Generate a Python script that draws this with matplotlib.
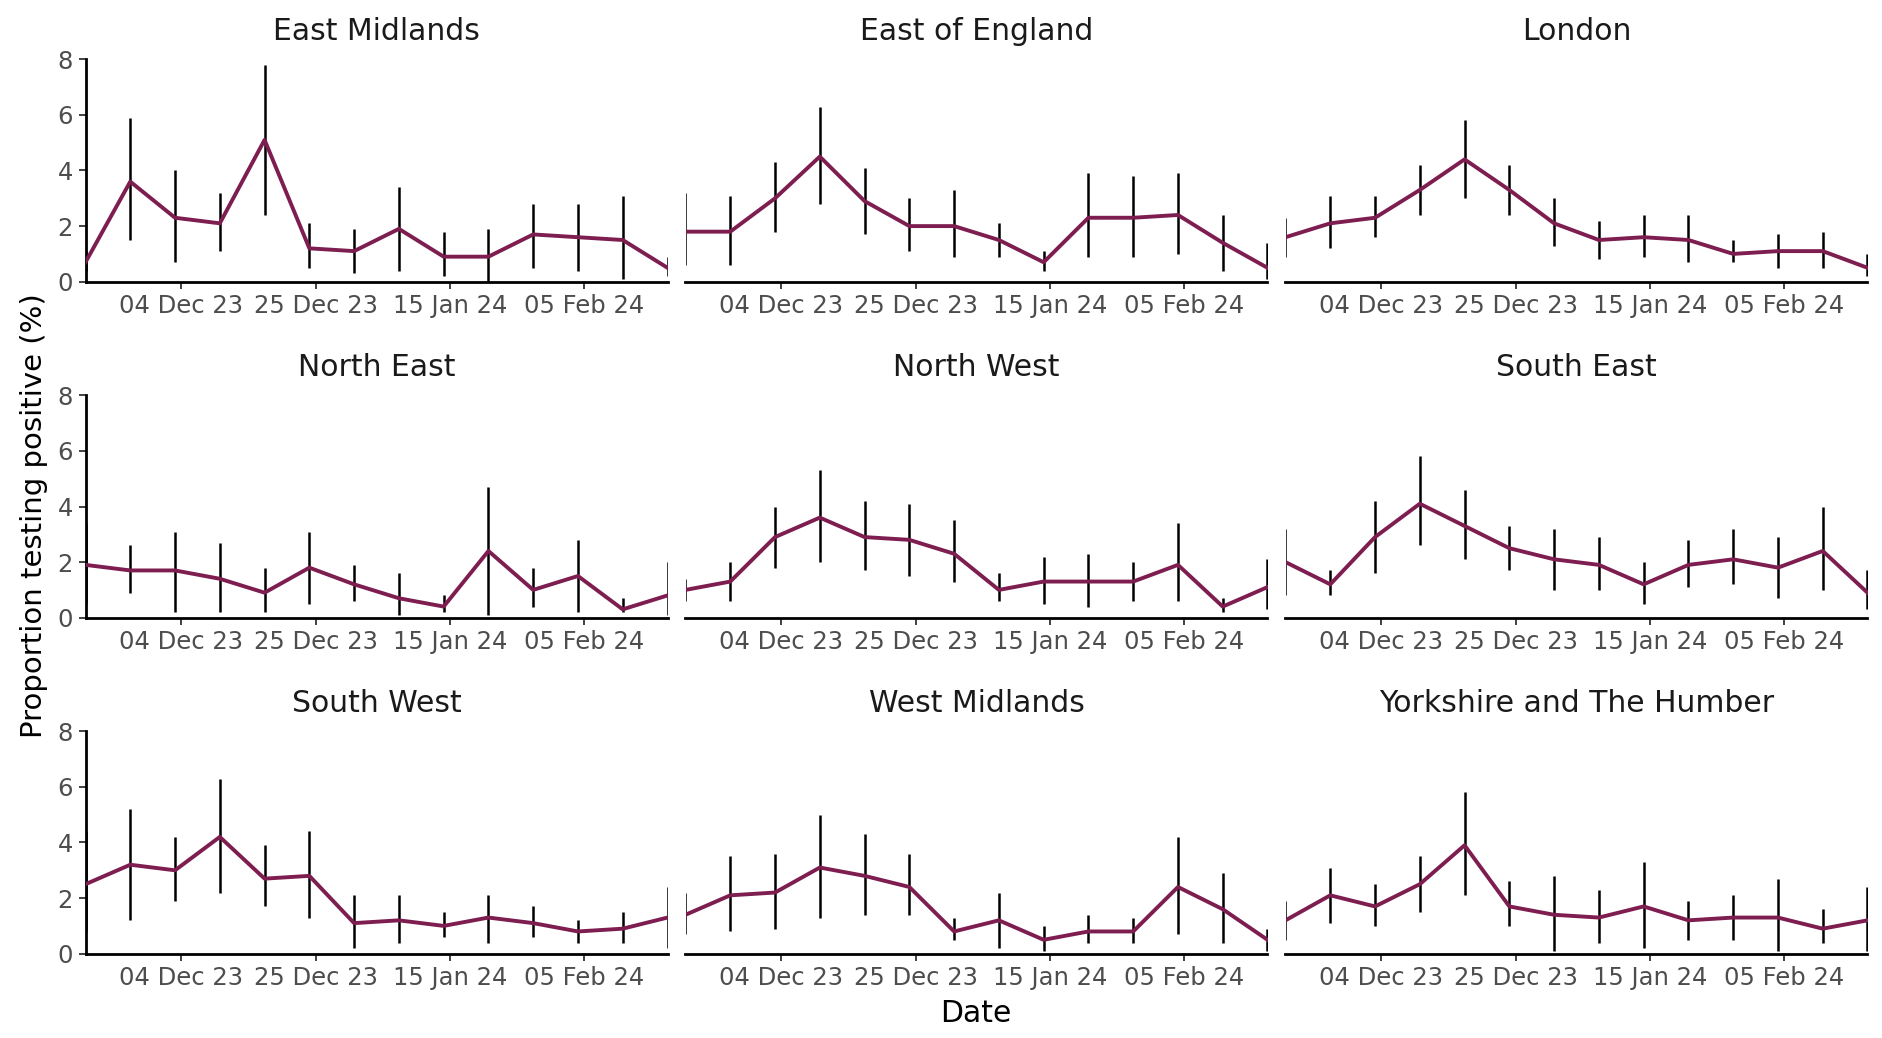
import matplotlib
matplotlib.use('Agg')
import matplotlib.pyplot as plt
import matplotlib.dates as mdates
import numpy as np

# weekly sample dates (Sundays)
dates = np.arange(np.datetime64('2023-11-19'), np.datetime64('2024-02-19'), np.timedelta64(7, 'D'))
tick_dates = np.array(['2023-12-04', '2023-12-25', '2024-01-15', '2024-02-05'], dtype='datetime64[D]')

east_midlands    = [0.7, 3.6, 2.3, 2.1, 5.1, 1.2, 1.1, 1.9, 0.9, 0.9, 1.7, 1.6, 1.5, 0.5]
east_midlands_lo = [0.4, 1.5, 0.7, 1.1, 2.4, 0.5, 0.3, 0.4, 0.2, 0.0, 0.5, 0.4, 0.1, 0.2]
east_midlands_hi = [1.1, 5.9, 4.0, 3.2, 7.8, 2.1, 1.9, 3.4, 1.8, 1.9, 2.8, 2.8, 3.1, 0.9]

east_england    = [1.8, 1.8, 3.0, 4.5, 2.9, 2.0, 2.0, 1.5, 0.7, 2.3, 2.3, 2.4, 1.4, 0.5]
east_england_lo = [0.6, 0.6, 1.8, 2.8, 1.7, 1.1, 0.9, 0.9, 0.4, 0.9, 0.9, 1.0, 0.4, 0.1]
east_england_hi = [3.2, 3.1, 4.3, 6.3, 4.1, 3.0, 3.3, 2.1, 1.1, 3.9, 3.8, 3.9, 2.4, 1.4]

london    = [1.6, 2.1, 2.3, 3.3, 4.4, 3.3, 2.1, 1.5, 1.6, 1.5, 1.0, 1.1, 1.1, 0.5]
london_lo = [0.9, 1.2, 1.6, 2.4, 3.0, 2.4, 1.3, 0.8, 0.9, 0.7, 0.7, 0.5, 0.5, 0.2]
london_hi = [2.3, 3.1, 3.1, 4.2, 5.8, 4.2, 3.0, 2.2, 2.4, 2.4, 1.5, 1.7, 1.8, 1.0]

north_east    = [1.9, 1.7, 1.7, 1.4, 0.9, 1.8, 1.2, 0.7, 0.4, 2.4, 1.0, 1.5, 0.3, 0.8]
north_east_lo = [0.5, 0.9, 0.2, 0.2, 0.2, 0.5, 0.6, 0.1, 0.2, 0.1, 0.4, 0.2, 0.2, 0.1]
north_east_hi = [3.4, 2.6, 3.1, 2.7, 1.8, 3.1, 1.9, 1.6, 0.8, 4.7, 1.8, 2.8, 0.7, 2.0]

north_west    = [1.0, 1.3, 2.9, 3.6, 2.9, 2.8, 2.3, 1.0, 1.3, 1.3, 1.3, 1.9, 0.4, 1.1]
north_west_lo = [0.6, 0.6, 1.8, 2.0, 1.7, 1.5, 1.3, 0.6, 0.5, 0.4, 0.6, 0.6, 0.2, 0.3]
north_west_hi = [1.4, 2.0, 4.0, 5.3, 4.2, 4.1, 3.5, 1.6, 2.2, 2.3, 2.0, 3.4, 0.7, 2.1]

south_east    = [2.0, 1.2, 2.9, 4.1, 3.3, 2.5, 2.1, 1.9, 1.2, 1.9, 2.1, 1.8, 2.4, 0.9]
south_east_lo = [0.8, 0.8, 1.6, 2.6, 2.1, 1.7, 1.0, 1.0, 0.5, 1.1, 1.2, 0.7, 1.0, 0.3]
south_east_hi = [3.2, 1.7, 4.2, 5.8, 4.6, 3.3, 3.2, 2.9, 2.0, 2.8, 3.2, 2.9, 4.0, 1.7]

south_west    = [2.5, 3.2, 3.0, 4.2, 2.7, 2.8, 1.1, 1.2, 1.0, 1.3, 1.1, 0.8, 0.9, 1.3]
south_west_lo = [0.8, 1.2, 1.9, 2.2, 1.7, 1.3, 0.2, 0.4, 0.6, 0.4, 0.6, 0.4, 0.4, 0.2]
south_west_hi = [4.4, 5.2, 4.2, 6.3, 3.9, 4.4, 2.1, 2.1, 1.5, 2.1, 1.7, 1.2, 1.5, 2.4]

west_midlands    = [1.4, 2.1, 2.2, 3.1, 2.8, 2.4, 0.8, 1.2, 0.5, 0.8, 0.8, 2.4, 1.6, 0.5]
west_midlands_lo = [0.7, 0.8, 0.9, 1.3, 1.4, 1.4, 0.5, 0.2, 0.1, 0.4, 0.4, 0.7, 0.4, 0.1]
west_midlands_hi = [2.2, 3.5, 3.6, 5.0, 4.3, 3.6, 1.3, 2.2, 1.0, 1.4, 1.3, 4.2, 2.9, 0.9]

yorkshire    = [1.2, 2.1, 1.7, 2.5, 3.9, 1.7, 1.4, 1.3, 1.7, 1.2, 1.3, 1.3, 0.9, 1.2]
yorkshire_lo = [0.5, 1.1, 1.0, 1.5, 2.1, 1.0, 0.1, 0.4, 0.2, 0.5, 0.5, 0.1, 0.4, 0.1]
yorkshire_hi = [1.9, 3.1, 2.5, 3.5, 5.8, 2.6, 2.8, 2.3, 3.3, 1.9, 2.1, 2.7, 1.6, 2.4]

regions = ['East Midlands', 'East of England', 'London',
           'North East', 'North West', 'South East',
           'South West', 'West Midlands', 'Yorkshire and The Humber']
values = [east_midlands, east_england, london, north_east, north_west,
          south_east, south_west, west_midlands, yorkshire]
lows = [east_midlands_lo, east_england_lo, london_lo, north_east_lo, north_west_lo,
        south_east_lo, south_west_lo, west_midlands_lo, yorkshire_lo]
highs = [east_midlands_hi, east_england_hi, london_hi, north_east_hi, north_west_hi,
         south_east_hi, south_west_hi, west_midlands_hi, yorkshire_hi]

LINE_COL = '#7D1D50'
W, H = 1882, 1038

plt.rcParams['font.family'] = ['DejaVu Sans']
fig = plt.figure(figsize=(W / 100, H / 100), dpi=100)

col_left = [85.5, 685.5, 1285.5]
row_top = [59.3, 395.3, 731.3]
ax_w, ax_h = 582, 222.4

for k, name in enumerate(regions):
    r, c = divmod(k, 3)
    ax = fig.add_axes([col_left[c] / W, 1 - (row_top[r] + ax_h) / H, ax_w / W, ax_h / H])
    x = dates.astype('datetime64[D]').astype(object)
    v = np.array(values[k])
    lo = np.array(lows[k])
    hi = np.array(highs[k])
    ax.vlines(x, lo, hi, color='black', lw=1.8, zorder=2)
    ax.plot(x, v, color=LINE_COL, lw=2.8, zorder=3)

    ax.set_xlim(x[0], x[-1])
    ax.set_ylim(0, 8)
    ax.set_yticks([0, 2, 4, 6, 8])
    ax.set_xticks(tick_dates.astype(object))
    ax.xaxis.set_major_formatter(mdates.DateFormatter('%d %b %y'))

    for s in ['top', 'right']:
        ax.spines[s].set_visible(False)
    ax.spines['bottom'].set_linewidth(2.0)
    ax.spines['left'].set_linewidth(2.0)
    ax.tick_params(axis='both', colors='#333333', labelcolor='#4D4D4D',
                   labelsize=17.5, length=5, width=1.3, pad=4)
    if c != 0:
        ax.spines['left'].set_visible(False)
        ax.tick_params(axis='y', left=False, labelleft=False)

    ax.text(0.5, 1 + 27.6 / ax_h, name, transform=ax.transAxes,
            ha='center', va='center', fontsize=21.5, color='#1A1A1A')

fig.text(0.018, 0.503, 'Proportion testing positive (%)', rotation=90,
         ha='center', va='center', fontsize=21, color='black')
fig.text(976 / W, 1 - 1014 / H, 'Date', ha='center', va='center',
         fontsize=21.5, color='black')

fig.savefig('out.png', dpi=100, facecolor='white')
